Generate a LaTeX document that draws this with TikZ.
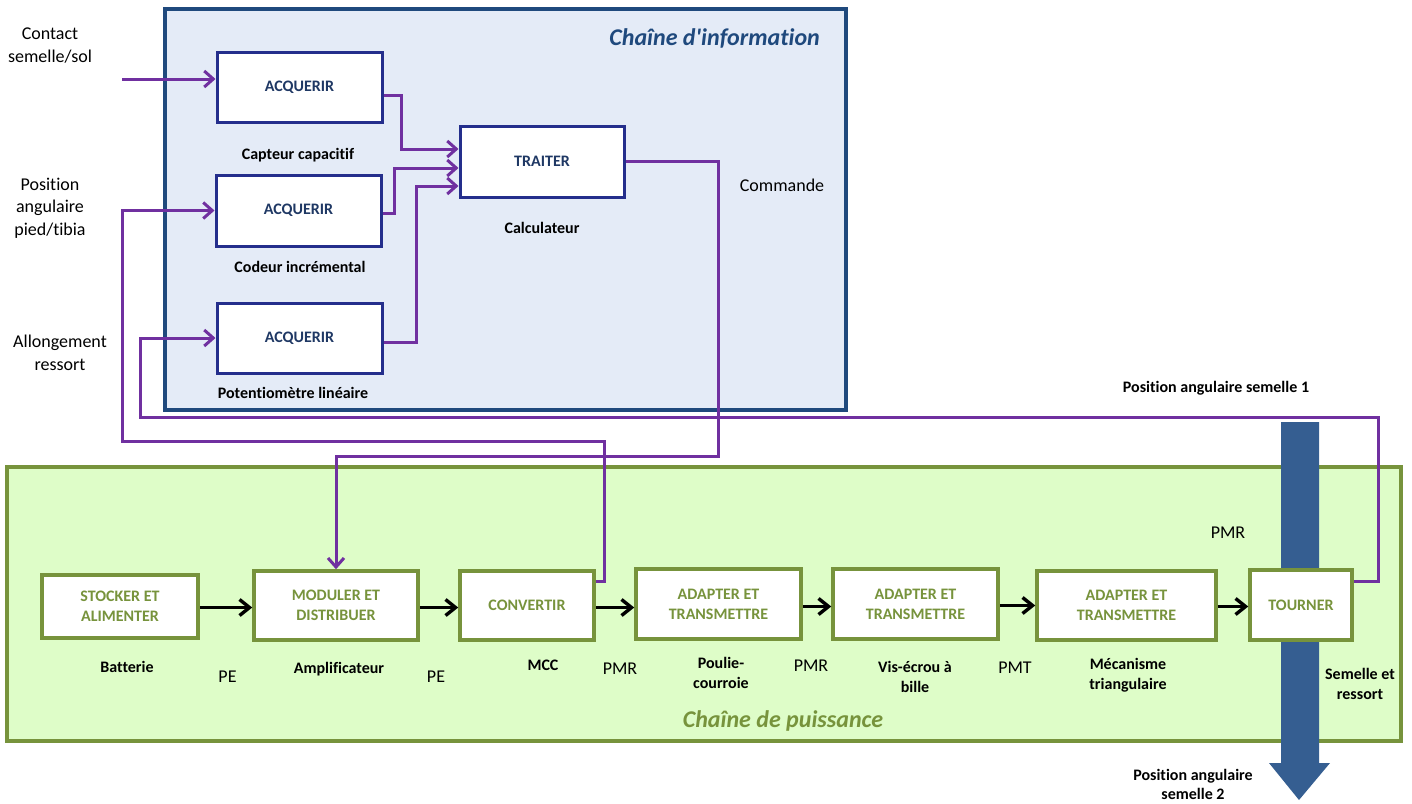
\documentclass[tikz,border=0pt]{standalone}
\usepackage{fontspec}
\setmainfont{Carlito}[Ligatures={TeXOff,NoCommon}]
\usetikzlibrary{arrows.meta,calc}

\definecolor{infofill}{RGB}{228,235,247}
\definecolor{infoborder}{RGB}{31,73,125}
\definecolor{acqborder}{RGB}{36,46,140}
\definecolor{acqtext}{RGB}{31,56,100}
\definecolor{pwrfill}{RGB}{222,253,200}
\definecolor{pwrgreen}{RGB}{119,147,60}
\definecolor{sigpurple}{RGB}{112,48,160}
\definecolor{flowblue}{RGB}{53,94,145}

\tikzset{
  chainbox/.style={draw, inner sep=0pt, line width=3.5pt},
  infochain/.style={chainbox, draw=infoborder, fill=infofill},
  powerchain/.style={chainbox, draw=pwrgreen, fill=pwrfill},
  acqbox/.style={draw=acqborder, fill=white, line width=3pt, text=acqtext,
    font=\bfseries\fontsize{16}{19}\selectfont, minimum width=165pt,
    minimum height=70pt, inner sep=0pt},
  funcbox/.style={draw=pwrgreen, fill=white, line width=3.5pt, text=pwrgreen,
    font=\bfseries\fontsize{16}{20}\selectfont, align=center,
    minimum height=69pt, inner sep=0pt},
  plain/.style={font=\fontsize{18}{22.5}\selectfont, align=center, inner sep=0pt, anchor=base},
  part/.style={font=\bfseries\fontsize{16}{19.5}\selectfont, align=center, inner sep=0pt, anchor=base},
  chaintitle/.style={font=\bfseries\itshape\fontsize{24}{28}\selectfont, inner sep=0pt, anchor=base},
  sig/.style={draw=sigpurple, line width=3pt, -{Straight Barb[length=9pt,width=16pt]}},
  flow/.style={draw=black, line width=3.4pt, -{Straight Barb[length=10pt,width=16pt]}}
}

\begin{document}
\begin{tikzpicture}[x=1pt,y=-1pt]
\useasboundingbox (0,0) rectangle (1412,803);

% the two chains
\node[infochain, minimum width=681pt, minimum height=401pt] (info) at (505.5,209.5) {};
\node[powerchain, minimum width=1394pt, minimum height=274pt] (power) at (704,604) {};

\node[chaintitle, text=infoborder, anchor=base east] (infotitle) at (820,45) {Chaîne d'information};
\node[chaintitle, text=pwrgreen] (powertitle) at (783,727) {Chaîne de puissance};

% motion output of the chain
\fill[flowblue] (1281,422) -- (1319,422) -- (1319,763) -- (1330,763) -- (1299,800)
  -- (1269,763) -- (1281,763) -- cycle;

% information chain blocks
\node[acqbox] (acq1) at (299.5,87) {ACQUERIR};
\node[acqbox, minimum height=71pt] (acq2) at (298.5,210.5) {ACQUERIR};
\node[acqbox] (acq3) at (299.5,338) {ACQUERIR};
\node[acqbox, minimum width=164pt, minimum height=71pt] (traiter) at (542,161.5) {TRAITER};

\node[part] (lcapt) at (298,159) {Capteur capacitif};
\node[part] (lcod) at (300,272) {Codeur incrémental};
\node[part] (lpot) at (293,398) {Potentiomètre linéaire};
\node[part] (lcalc) at (542,233) {Calculateur};
\node[plain] (lcmd) at (782,191) {Commande};

% power chain blocks
\node[funcbox, minimum width=156pt, minimum height=63pt] (stock) at (120,606.5) {STOCKER ET\\ALIMENTER};
\node[funcbox, minimum width=164pt] (modul) at (336,605.5) {MODULER ET\\DISTRIBUER};
\node[funcbox, minimum width=134pt] (conv) at (527,605.5) {CONVERTIR};
\node[funcbox, minimum width=165pt, minimum height=70pt] (adapt1) at (718.5,604) {ADAPTER ET\\TRANSMETTRE};
\node[funcbox, minimum width=165pt, minimum height=70pt] (adapt2) at (915.5,604) {ADAPTER ET\\TRANSMETTRE};
\node[funcbox, minimum width=179pt] (adapt3) at (1126.5,605.5) {ADAPTER ET\\TRANSMETTRE};
\node[funcbox, minimum width=102pt, minimum height=70pt] (tourner) at (1301,605) {TOURNER};

% components (multi-line nodes sit on the baseline of their last line)
\node[part] (lbat) at (127,672) {Batterie};
\node[part] (lamp) at (339,673) {Amplificateur};
\node[part] (lmcc) at (543,670) {MCC};
\node[part] (lpoul) at (721,688) {Poulie-\\courroie};
\node[part] (lvis) at (915,692) {Vis-écrou à\\bille};
\node[part] (lmeca) at (1128,689) {Mécanisme\\triangulaire};
\node[part] (lsem) at (1360,699) {Semelle et\\ressort};

\node[plain] (pe1) at (227.5,682) {PE};
\node[plain] (pe2) at (436,682) {PE};
\node[plain] (pmr1) at (620,674) {PMR};
\node[plain] (pmr2) at (811,671) {PMR};
\node[plain] (pmt) at (1015,673) {PMT};
\node[plain] (pmr3) at (1228,538) {PMR};

\node[part] (possem1) at (1216,392) {Position angulaire semelle 1};
\node[part, font=\bfseries\fontsize{16}{18.5}\selectfont] (possem2) at (1193,799) {Position angulaire\\semelle 2};

% inputs of the information chain
\node[plain] (incontact) at (50,62) {Contact\\semelle/sol};
\node[plain] (inpos) at (50,235) {Position\\angulaire\\pied/tibia};
\node[plain] (inallong) at (60,370) {Allongement\\ressort};

\coordinate (contactin) at (122,79);
\coordinate (fbconvA) at (604,441);
\coordinate (fbconvB) at (122,441);
\coordinate (fbturnA) at (1378,417);
\coordinate (fbturnB) at (140,417);
\coordinate (cmdbend) at (718,456);

% power flow
\draw[flow] (stock.east |- 0,607.5) -- (modul.west |- 0,607.5);
\draw[flow] (modul.east |- 0,607.5) -- (conv.west |- 0,607.5);
\draw[flow] (conv.east |- 0,607.5) -- (adapt1.west |- 0,607.5);
\draw[flow] (adapt1.east |- 0,606.5) -- (adapt2.west |- 0,606.5);
\draw[flow] (adapt2.east |- 0,605.5) -- (adapt3.west |- 0,605.5);
\draw[flow] (adapt3.east |- 0,606.5) -- (tourner.west |- 0,606.5);

% information signals
\draw[sig] (contactin) -- (contactin -| acq1.west);
\draw[sig] ([yshift=-8pt]acq1.east) -- ++(18,0) |- ([yshift=12.5pt]traiter.west);
\draw[sig] ([yshift=-3pt]acq2.east) -- ++(12,0) |- ([yshift=-6.5pt]traiter.west);
\draw[sig] ([yshift=-4pt]acq3.east) -- ++(33,0) |- ([yshift=-24.5pt]traiter.west);
\draw[sig] (traiter.east) -| (cmdbend) -| (modul.north);
\draw[sig] ([yshift=24.5pt]conv.east) -| (fbconvA) -- (fbconvB) |- (acq2.west);
\draw[sig] ([yshift=24pt]tourner.east) -| (fbturnA) -- (fbturnB) |- (acq3.west);
\end{tikzpicture}
\end{document}
